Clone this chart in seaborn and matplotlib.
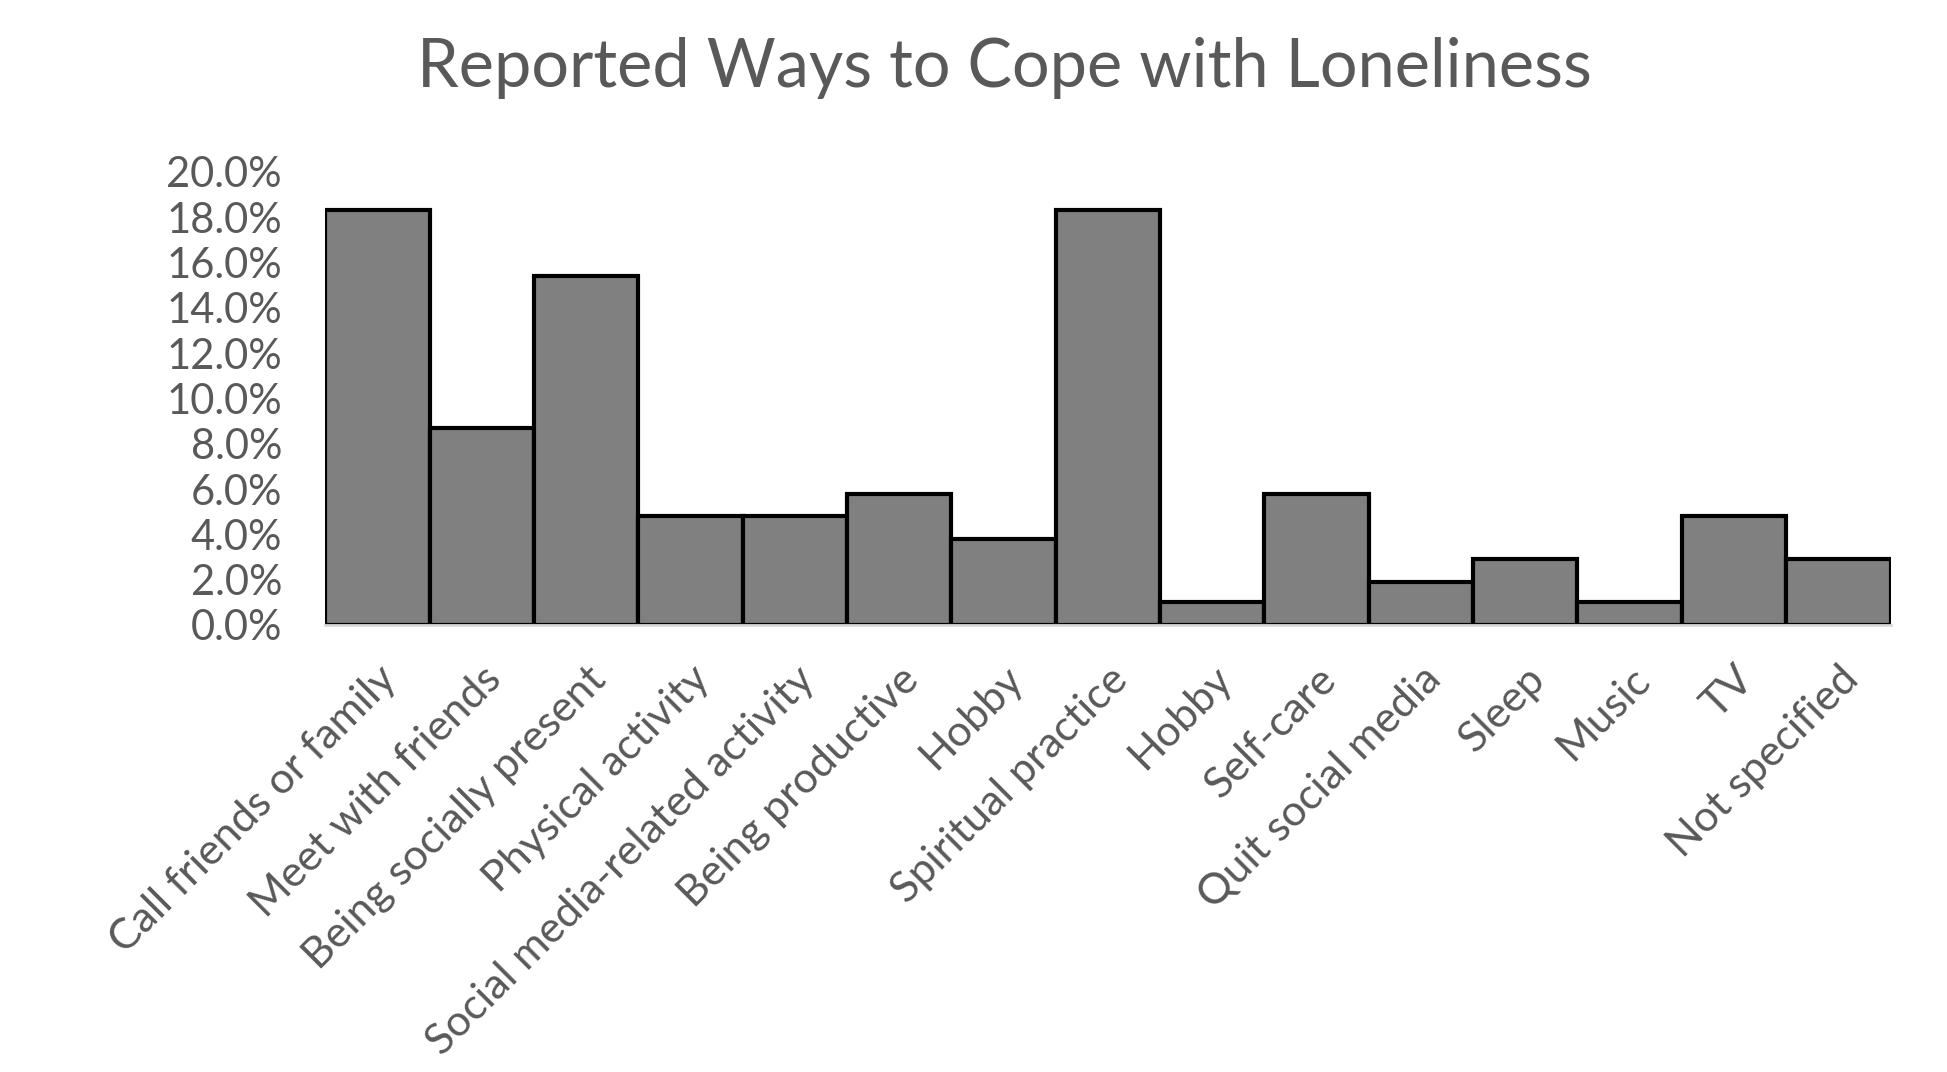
import matplotlib
matplotlib.use("Agg")
import matplotlib.pyplot as plt
import seaborn as sns
import pandas as pd
from matplotlib.ticker import PercentFormatter

# Share of respondents reporting each coping strategy (percent)
categories = [
    "Call friends or family", "Meet with friends", "Being socially present",
    "Physical activity", "Social media-related activity", "Being productive",
    "Hobby", "Spiritual practice", "Hobby", "Self-care", "Quit social media",
    "Sleep", "Music", "TV", "Not specified",
]
shares = [18.3, 8.7, 15.4, 4.8, 4.8, 5.8, 3.8, 18.3, 1.0, 5.8, 1.9, 2.9, 1.0, 4.8, 2.9]
y_ticks = [0, 2, 4, 6, 8, 10, 12, 14, 16, 18, 20]

sns.set_theme(style="white")
plt.rcParams["font.family"] = ["Lato", "DejaVu Sans"]

text_color = "#595959"
df = pd.DataFrame({"pos": list(range(len(categories))), "share": shares})

fig = plt.figure(figsize=(19.47, 10.72), dpi=100)
ax = fig.add_axes([0.167, 0.417, 0.804, 0.4226])

sns.barplot(data=df, x="pos", y="share", ax=ax, color="#808080", saturation=1,
            width=1.0, edgecolor="black", linewidth=3.0)

ax.set_xlim(-0.5, len(categories) - 0.5)
ax.set_ylim(0, 20)
ax.set_yticks(y_ticks)
ax.yaxis.set_major_formatter(PercentFormatter(decimals=1))
ax.set_xticks(range(len(categories)))
ax.set_xticklabels(categories, rotation=45, ha="right", rotation_mode="anchor",
                   fontsize=31, color=text_color)
ax.tick_params(axis="y", labelsize=30, labelcolor=text_color, length=0, pad=31)
ax.tick_params(axis="x", length=0, pad=25)
ax.set_xlabel("")
ax.set_ylabel("")

for side in ("top", "right", "left"):
    ax.spines[side].set_visible(False)
ax.spines["bottom"].set_color("#d9d9d9")
ax.spines["bottom"].set_linewidth(2)

fig.text(0.516, 0.937, "Reported Ways to Cope with Loneliness", ha="center",
         va="center", fontsize=48, color=text_color)

fig.savefig("out.png", dpi=100)
